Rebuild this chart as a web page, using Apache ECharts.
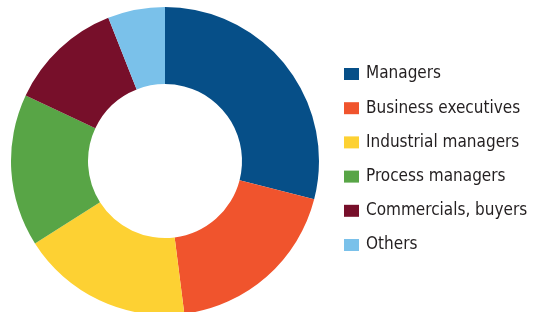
<!DOCTYPE html>
<html>
  <head>
    <meta charset="UTF-8" />
    <title>Occupations donut</title>
    <script src="https://cdn.jsdelivr.net/npm/echarts@6/dist/echarts.min.js"></script>
    <style>
      html, body { margin: 0; padding: 0; background: #fff; }
    </style>
  </head>
  <body>
    <div id="donut" style="width: 533px; height: 312px"></div>
  </body>
  <script>
    // categories and shares (%)
    const categories = ['Managers', 'Business executives', 'Industrial managers', 'Process managers', 'Commercials, buyers', 'Others'];
    const shares = [29, 19, 18, 16, 12, 6];
    const colors = ['#064f88', '#f0542d', '#fdd133', '#58a546', '#770f2a', '#7ac1ea'];

    let myChart = echarts.init(document.getElementById('donut'));

    myChart.setOption({
      animation: false,
      color: colors,
      legend: {
        orient: 'vertical',
        left: 344,
        top: 64,
        padding: 0,
        itemWidth: 15,
        itemHeight: 12,
        itemGap: 14.2,
        icon: 'rect',
        data: categories,
        textStyle: {
          fontFamily: 'DejaVu Sans Condensed',
          fontSize: 17,
          lineHeight: 20,
          color: '#231f20',
          padding: [0, 0, 0, 2]
        }
      },
      series: [
        {
          type: 'pie',
          center: [165, 161],
          radius: [77, 154],
          startAngle: 90,
          label: { show: false },
          labelLine: { show: false },
          emphasis: { disabled: true },
          data: categories.map((name, i) => ({ name: name, value: shares[i] }))
        }
      ]
    });
  </script>
</html>
